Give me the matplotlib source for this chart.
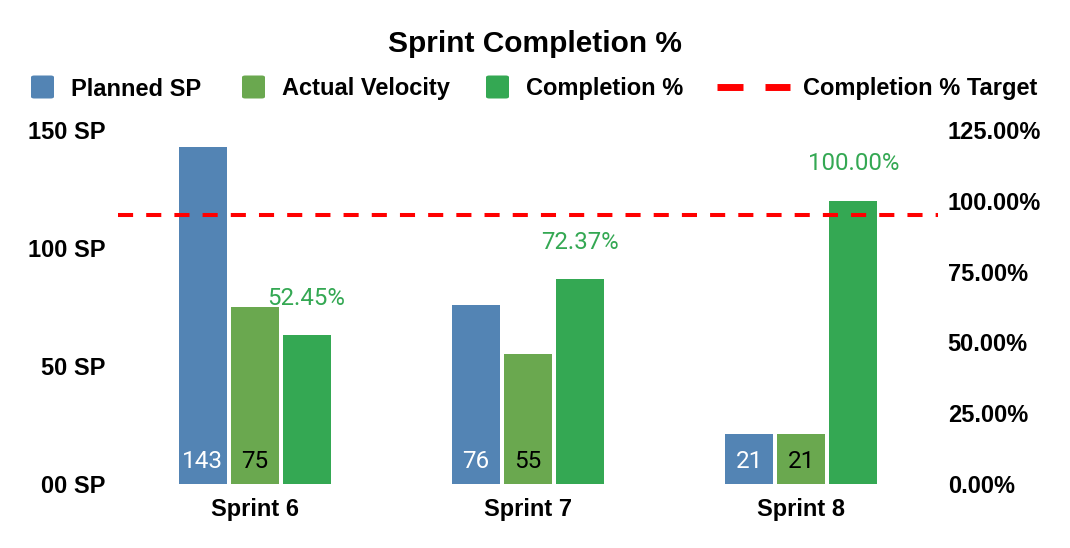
import matplotlib
matplotlib.use('Agg')
import matplotlib.pyplot as plt
import numpy as np
from matplotlib.patches import FancyBboxPatch
from matplotlib.lines import Line2D

# ---- data ----
sprints = ['Sprint 6', 'Sprint 7', 'Sprint 8']
planned = [143, 76, 21]
actual = [75, 55, 21]
completion = [52.45, 72.37, 100.00]
target = 95
left_ticks = [0, 50, 100, 150]
left_labels = ['00 SP', '50 SP', '100 SP', '150 SP']
right_ticks = [0, 25, 50, 75, 100, 125]
right_labels = ['0.00%', '25.00%', '50.00%', '75.00%', '100.00%', '125.00%']
series_names = ['Planned SP', 'Actual Velocity', 'Completion %', 'Completion % Target']

C_PLAN = '#5384b4'
C_ACT = '#6aa84f'
C_COMP = '#34a853'
C_TGT = '#ff0000'

BOLD = 'Liberation Sans'
LBL = 'Roboto'

W, H = 1070, 548
fig = plt.figure(figsize=(W / 100, H / 100), dpi=100)
ax = fig.add_axes([118 / W, 64 / H, 820 / W, 354 / H])
ax2 = ax.twinx()

x = np.arange(len(sprints))
bw = 0.1756
off = 0.190

ax.bar(x - off, planned, bw, color=C_PLAN, zorder=2)
ax.bar(x, actual, bw, color=C_ACT, zorder=2)
ax2.bar(x + off, completion, bw, color=C_COMP, zorder=2)

ax.set_xlim(-0.5, 2.5)
ax.set_ylim(0, 150)
ax2.set_ylim(0, 125)

ax2.axhline(target, color=C_TGT, lw=2.9, dashes=(3.75, 3.25), zorder=5)

# data labels
for xi, v in zip(x, planned):
    ax.annotate(str(v), xy=(xi - off, 0), xytext=(0, 22 * 0.72), textcoords='offset points',
                ha='center', va='center', color='white', fontsize=17.5, family=LBL)
for xi, v in zip(x, actual):
    ax.annotate(str(v), xy=(xi, 0), xytext=(0, 22 * 0.72), textcoords='offset points',
                ha='center', va='center', color='black', fontsize=17.5, family=LBL)
for xi, v in zip(x, completion):
    ax2.annotate(f'{v:.2f}%', xy=(xi + off, v), xytext=(0, 37 * 0.72), textcoords='offset points',
                 ha='center', va='center', color=C_COMP, fontsize=17.3, family=LBL)

# axes styling
for a in (ax, ax2):
    for s in a.spines.values():
        s.set_visible(False)
ax.set_xticks(x)
ax.set_xticklabels(sprints, fontsize=17, fontweight='bold', family=BOLD)
ax.tick_params(axis='x', length=0, pad=10)
ax.set_yticks(left_ticks)
ax.set_yticklabels(left_labels, fontsize=17, fontweight='bold', family=BOLD)
ax.tick_params(axis='y', length=0, pad=9)
ax2.set_yticks(right_ticks)
ax2.set_yticklabels(right_labels, fontsize=17, fontweight='bold', family=BOLD)
ax2.tick_params(axis='y', length=0, pad=7)

# title
fig.text(535 / W, 1 - 44 / H, 'Sprint Completion %', ha='center', va='center',
         fontsize=21.5, fontweight='bold', family=BOLD)

# legend (manual)
ly = 1 - 89 / H
sq_w, sq_h = 23 / W, 23 / H
for (sx, tx), name, col in zip([(31, 71), (242, 282), (486, 526)], series_names[:3],
                                [C_PLAN, C_ACT, C_COMP]):
    p = FancyBboxPatch((sx / W, (1 - 87 / H) - sq_h / 2), sq_w, sq_h,
                       boxstyle='round,pad=0,rounding_size=0.003',
                       transform=fig.transFigure, facecolor=col, edgecolor='none')
    fig.patches.append(p)
    fig.text(tx / W, ly, name, ha='left', va='center', fontsize=17, fontweight='bold', family=BOLD)
for a0, a1 in [(717, 743), (765, 790)]:
    fig.lines.append(Line2D([a0 / W, a1 / W], [1 - 87 / H, 1 - 87 / H], transform=fig.transFigure,
                            color=C_TGT, lw=5, solid_capstyle='butt'))
fig.text(803 / W, ly, series_names[3], ha='left', va='center', fontsize=17, fontweight='bold', family=BOLD)

fig.savefig('out.png', dpi=100)
